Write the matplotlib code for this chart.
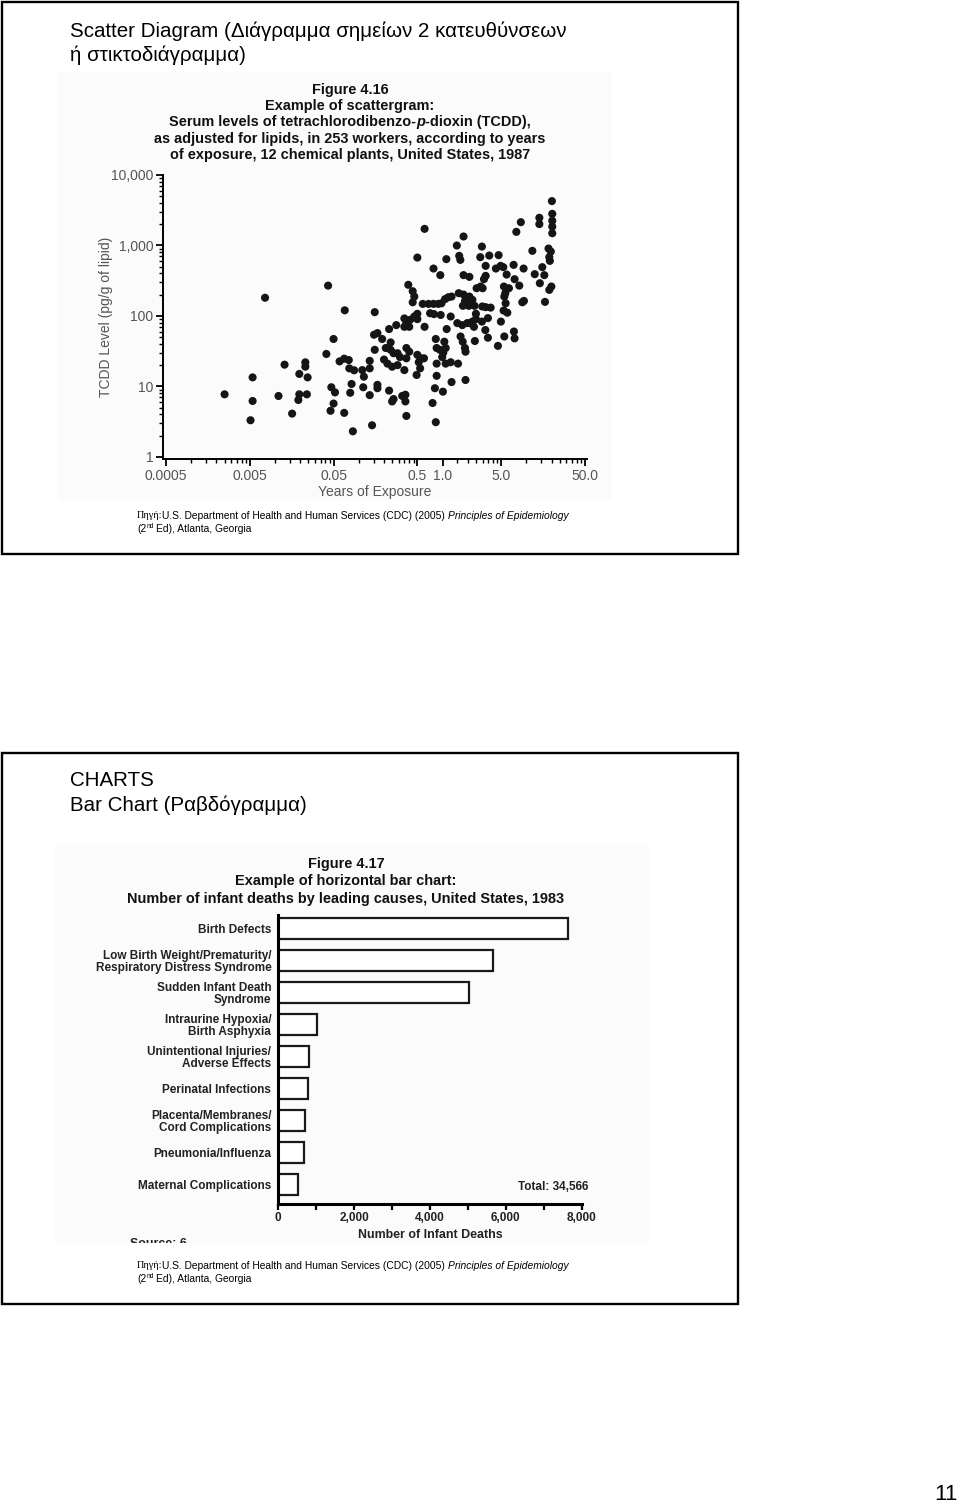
import numpy as np
import matplotlib
matplotlib.use('Agg')
import matplotlib.pyplot as plt
from matplotlib import font_manager
from matplotlib.patches import Rectangle
from matplotlib.transforms import Bbox, TransformedBbox
from matplotlib.ticker import FixedLocator, NullFormatter, LogLocator

# scatter: years of exposure vs TCDD level (pg/g of lipid)
years = [0.0025, 0.0054, 0.0054, 0.0051, 0.0076, 0.011, 0.013, 0.016, 0.019, 0.0195,
         0.0195, 0.023, 0.023, 0.0245, 0.024, 0.043, 0.041, 0.050, 0.047, 0.052,
         0.046, 0.050, 0.068, 0.059, 0.067, 0.076, 0.077, 0.088, 0.082, 0.079,
         0.067, 0.085,
         20.2, 20.4, 20.4, 20.4, 20.4, 14.3, 14.3, 8.6, 7.6, 0.61,
         1.78, 1.48, 2.95, 11.8, 18.4, 19.6, 0.50, 1.11, 1.58, 1.63,
         2.82, 3.61, 4.67, 18.8, 19.1, 0.78, 0.94, 3.27, 4.33, 4.93,
         5.31, 7.05, 9.27, 15.5, 12.6, 16.4, 1.78, 2.09, 3.27, 3.12,
         2.85, 2.55, 3.01, 5.82, 5.40, 6.20, 5.61, 5.46, 7.24, 8.24,
         14.5, 19.9, 18.8, 16.7, 8.95, 9.36, 0.39, 0.44, 0.46, 0.44,
         0.58, 0.68, 0.78, 0.89, 0.97, 1.07, 1.17, 1.28, 1.56, 1.78,
         2.09, 2.27, 1.85, 1.75, 2.06, 2.41, 2.98, 3.27, 3.75, 5.66,
         5.36, 5.93, 4.97, 3.48, 2.95, 3.24, 2.50, 2.50, 2.12, 2.37,
         0.155, 0.35, 0.37, 0.41, 0.46, 0.50, 0.50, 0.35, 0.40, 0.28,
         0.23, 0.167, 0.19, 0.24, 0.61, 0.71, 0.79, 0.95, 1.25, 1.50,
         1.72, 1.97, 2.27, 1.12, 1.64, 1.74, 1.85, 1.88, 2.43, 3.48,
         4.58, 5.46, 7.11, 7.24, 0.83, 1.05, 1.09, 0.93, 0.85, 1.02,
         0.99, 0.152, 0.155, 0.21, 0.24, 0.26, 0.29, 0.31, 0.37, 0.40,
         0.37, 0.50, 0.55, 0.52, 0.60, 0.85, 1.09, 1.25, 1.53, 0.20,
         0.22, 0.25, 0.29, 0.35, 0.11, 0.115, 0.135, 0.135, 0.49, 0.54,
         0.85, 1.28, 1.88, 0.113, 0.135, 0.167, 0.167, 0.23, 0.26, 0.25,
         0.33, 0.36, 0.36, 0.81, 1.01, 0.76, 0.37, 0.83, 0.144]
tcdd = [7.7, 13.4, 6.2, 3.3, 181, 7.3, 20.3, 4.1, 6.4, 15.0,
        7.7, 21.9, 19.0, 13.4, 7.7, 269, 28.8, 47, 9.7, 8.2,
        4.5, 5.7, 120, 22.6, 24.7, 23.6, 18.0, 16.9, 10.8, 8.1,
        4.2, 2.3,
        4260, 2810, 2240, 1850, 1490, 2470, 2010, 2140, 1560, 1720,
        1340, 997, 964, 838, 904, 819, 673, 639, 712, 624,
        682, 719, 728, 682, 604, 470, 379, 513, 470, 513,
        492, 530, 470, 492, 391, 379, 379, 358, 370, 332,
        261, 247, 247, 386, 261, 247, 210, 188, 332, 269,
        291, 261, 234, 158, 156, 163, 276, 224, 188, 156,
        148, 148, 148, 148, 151, 173, 184, 188, 210, 201,
        188, 169, 162, 139, 139, 139, 136, 133, 131, 151,
        119, 111, 83, 93, 83, 63, 107, 90, 79, 70,
        113, 92, 80, 88, 98, 107, 90, 70, 70, 74,
        65, 57, 47, 42, 70, 109, 106, 103, 98, 79,
        74, 79, 83, 65, 51, 43, 35, 31, 44, 49,
        37.5, 51, 60, 48, 47, 43, 35, 33, 35, 30,
        26, 54, 33, 35, 33, 29.5, 29.5, 26, 35, 31,
        25, 28, 25, 22, 25, 21, 21, 22, 21, 24,
        21, 19, 20, 17, 17, 13.7, 23, 18, 14.5, 18,
        14.1, 11.5, 12.3, 9.7, 7.5, 10.5, 9.4, 8.7, 6.6, 6.1,
        7.3, 7.6, 6.1, 9.4, 8.4, 5.8, 3.8, 3.1, 2.8]

x_ticks = [0.0005, 0.005, 0.05, 0.5, 1.0, 5.0, 50.0]
x_ticklabels = ['0.0005', '0.005', '0.05', '0.5', '1.0', '5.0', '50.0']
y_ticks = [1, 10, 100, 1000, 10000]
y_ticklabels = ['1', '10', '100', '1,000', '10,000']

# bar chart: infant deaths by leading cause, 1983
causes = ['Birth Defects',
          'Low Birth Weight/Prematurity/\nRespiratory Distress Syndrome',
          'Sudden Infant Death\nSyndrome',
          'Intraurine Hypoxia/\nBirth Asphyxia',
          'Unintentional Injuries/\nAdverse Effects',
          'Perinatal Infections',
          'Placenta/Membranes/\nCord Complications',
          'Pneumonia/Influenza',
          'Maternal Complications']
deaths = [7630, 5670, 5040, 1010, 820, 780, 700, 680, 510]
bar_ticks = [0, 2000, 4000, 6000, 8000]

scatter_title = ['Figure 4.16', 'Example of scattergram:', None,
                 'as adjusted for lipids, in 253 workers, according to years',
                 'of exposure, 12 chemical plants, United States, 1987']
bar_title = ['Figure 4.17', 'Example of horizontal bar chart:',
             'Number of infant deaths by leading causes, United States, 1983']

W, H = 960, 1507
plt.rcParams['font.family'] = ['Liberation Sans', 'DejaVu Sans']
names = {f.name for f in font_manager.fontManager.ttflist}
if 'Liberation Sans Narrow' in names:
    NARROW = ['Liberation Sans Narrow', 'DejaVu Sans']
else:
    NARROW = ['Liberation Sans', 'DejaVu Sans']

fig = plt.figure(figsize=(W / 100, H / 100), dpi=100)
page = fig.add_axes([0, 0, 1, 1])
page.set_xlim(0, W)
page.set_ylim(H, 0)
page.axis('off')
renderer = fig.canvas.get_renderer()


def fit_size(s, target, **kw):
    # font size that makes s about target pixels wide
    t = page.text(0, 0, s, fontsize=10, **kw)
    w = t.get_window_extent(renderer).width
    t.remove()
    return 10 * target / w


def draw_runs(x, y, runs, align='left'):
    # runs: (text, dy, gap_after, kwargs)
    texts, widths = [], []
    for s, dy, gap, kw in runs:
        t = page.text(0, y + dy, s, va='center', **kw)
        texts.append(t)
        widths.append(t.get_window_extent(renderer).width + gap)
    pos = x - sum(widths) / 2 if align == 'center' else x
    for t, w in zip(texts, widths):
        t.set_x(pos)
        pos += w


title_size = fit_size('Scatter Diagram (Διάγραμμα σημείων 2 κατευθύνσεων', 497)
fig_size = fit_size('as adjusted for lipids, in 253 workers, according to years', 393,
                    fontweight='bold')
cap_size = fit_size('U.S. Department of Health and Human Services (CDC) (2005)', 283)
nsize = fit_size('Low Birth Weight/Prematurity/', 168, family=NARROW, fontweight='bold')

# slide frames and picture areas
for top, bottom in [(2, 554), (753, 1304)]:
    page.add_patch(Rectangle((2, top), 736, bottom - top, fill=False, lw=1.7, ec='black'))
page.add_patch(Rectangle((58, 72), 554, 428, fc='#fbfbfb', ec='none'))
page.add_patch(Rectangle((55, 845), 595, 398, fc='#fbfbfb', ec='none'))

# slide titles
tkw = dict(fontsize=title_size, va='center', color='black')
page.text(70, 31, 'Scatter Diagram (Διάγραμμα σημείων 2 κατευθύνσεων', **tkw)
page.text(70, 55, 'ή στικτοδιάγραμμα)', **tkw)
page.text(70, 781, 'CHARTS', **tkw)
page.text(70, 805, 'Bar Chart (Ραβδόγραμμα)', **tkw)

# figure titles
fkw = dict(fontsize=fig_size, fontweight='bold', color='#111')
for i, line in enumerate(scatter_title):
    yy = 90 + 16.2 * i
    if line is None:
        draw_runs(350, yy, [('Serum levels of tetrachlorodibenzo-', 0, 0, fkw),
                            ('p', 0, 0, dict(fkw, style='italic')),
                            ('-dioxin (TCDD),', 0, 0, fkw)], align='center')
    else:
        page.text(350, yy, line, ha='center', va='center', **fkw)
for i, line in enumerate(bar_title):
    page.text(346, 864 + 17.3 * i, line, ha='center', va='center', **fkw)

# source captions
skw = dict(fontsize=cap_size, color='black')
for y0 in (516, 1266):
    draw_runs(137, y0, [('Πηγή:', 0, 0, dict(skw, family=['Liberation Serif', 'DejaVu Serif'])),
                        ('U.S. Department of Health and Human Services (CDC) (2005)', 0, 3, skw),
                        ('Principles of Epidemiology', 0, 0, dict(skw, style='italic'))])
    draw_runs(137, y0 + 13, [('(2', 0, 0, skw),
                             ('nd', -3, 2, dict(skw, fontsize=cap_size * 0.65)),
                             ('Ed), Atlanta, Georgia', 0, 0, skw)])

# the picture of the bar chart is cut off through this line
src = page.text(130, 1244, 'Source: 6', fontsize=nsize + 0.5, family=NARROW,
                fontweight='bold', va='center', color='#222')
src.set_clip_on(True)
src.set_clip_box(TransformedBbox(Bbox([[55, 845], [650, 1243]]), page.transData))

page.text(958, 1494, '11', ha='right', va='center', fontsize=16)

# scatter chart
ax1 = fig.add_axes([163 / W, 1 - 459 / H, (587 - 163) / W, (459 - 175) / H])
ax1.set_facecolor('none')
ax1.set_xscale('log')
ax1.set_yscale('log')
ax1.scatter(years, tcdd, s=34, c='#151515', edgecolors='none', zorder=3)
ax1.set_xlim(0.00046, 53)
ax1.set_ylim(0.93, 10000)
for s in ['top', 'right']:
    ax1.spines[s].set_visible(False)
for s in ['left', 'bottom']:
    ax1.spines[s].set_linewidth(1.4)
ax1.set_xticks(x_ticks, x_ticklabels)
ax1.xaxis.set_minor_locator(FixedLocator([0.0005 * k * 10 ** d for d in range(5) for k in range(2, 10)]))
ax1.xaxis.set_minor_formatter(NullFormatter())
ax1.set_yticks(y_ticks, y_ticklabels)
ax1.yaxis.set_minor_locator(LogLocator(base=10, subs=np.arange(2, 10)))
ax1.yaxis.set_minor_formatter(NullFormatter())
ax1.tick_params(which='major', length=5, width=1.3, labelsize=10, labelcolor='#555', pad=2)
ax1.tick_params(which='minor', length=3, width=1.0)
ax1.set_xlabel('Years of Exposure', fontsize=10, color='#555')
ax1.xaxis.set_label_coords(0.5, -0.093)
ax1.set_ylabel('TCDD Level (pg/g of lipid)', fontsize=10, color='#555')
ax1.yaxis.set_label_coords(-0.118, 0.5)

# bar chart
ax2 = fig.add_axes([278.3 / W, 1 - 1204 / H, (581.7 - 278.3) / W, (1204 - 915) / H])
ax2.set_facecolor('none')
pos = np.arange(len(causes))
ax2.barh(pos, deaths, height=0.67, color='white', edgecolor='#1a1a1a', linewidth=1.6)
ax2.set_xlim(0, 8000)
ax2.set_ylim(8.62, -0.43)
for s in ['top', 'right']:
    ax2.spines[s].set_visible(False)
for s in ['left', 'bottom']:
    ax2.spines[s].set_linewidth(2.2)
ax2.set_yticks(pos, causes, family=NARROW, fontsize=nsize, fontweight='bold',
               linespacing=1.0, color='#222')
ax2.tick_params(axis='y', length=0, pad=5)
ax2.set_xticks(bar_ticks, [f'{v:,}' for v in bar_ticks], family=NARROW,
               fontsize=nsize, fontweight='bold', color='#222')
ax2.xaxis.set_minor_locator(FixedLocator([1000, 3000, 5000, 7000]))
ax2.tick_params(axis='x', which='both', length=4, width=1.6, pad=2)
ax2.set_xlabel('Number of Infant Deaths', family=NARROW, fontsize=nsize + 0.5,
               fontweight='bold', color='#222')
ax2.xaxis.set_label_coords(0.5, -0.087)
ax2.text(6320, 8.09, 'Total: 34,566', family=NARROW, fontsize=nsize,
         fontweight='bold', color='#222', va='center')

fig.savefig('out.png', dpi=100)
